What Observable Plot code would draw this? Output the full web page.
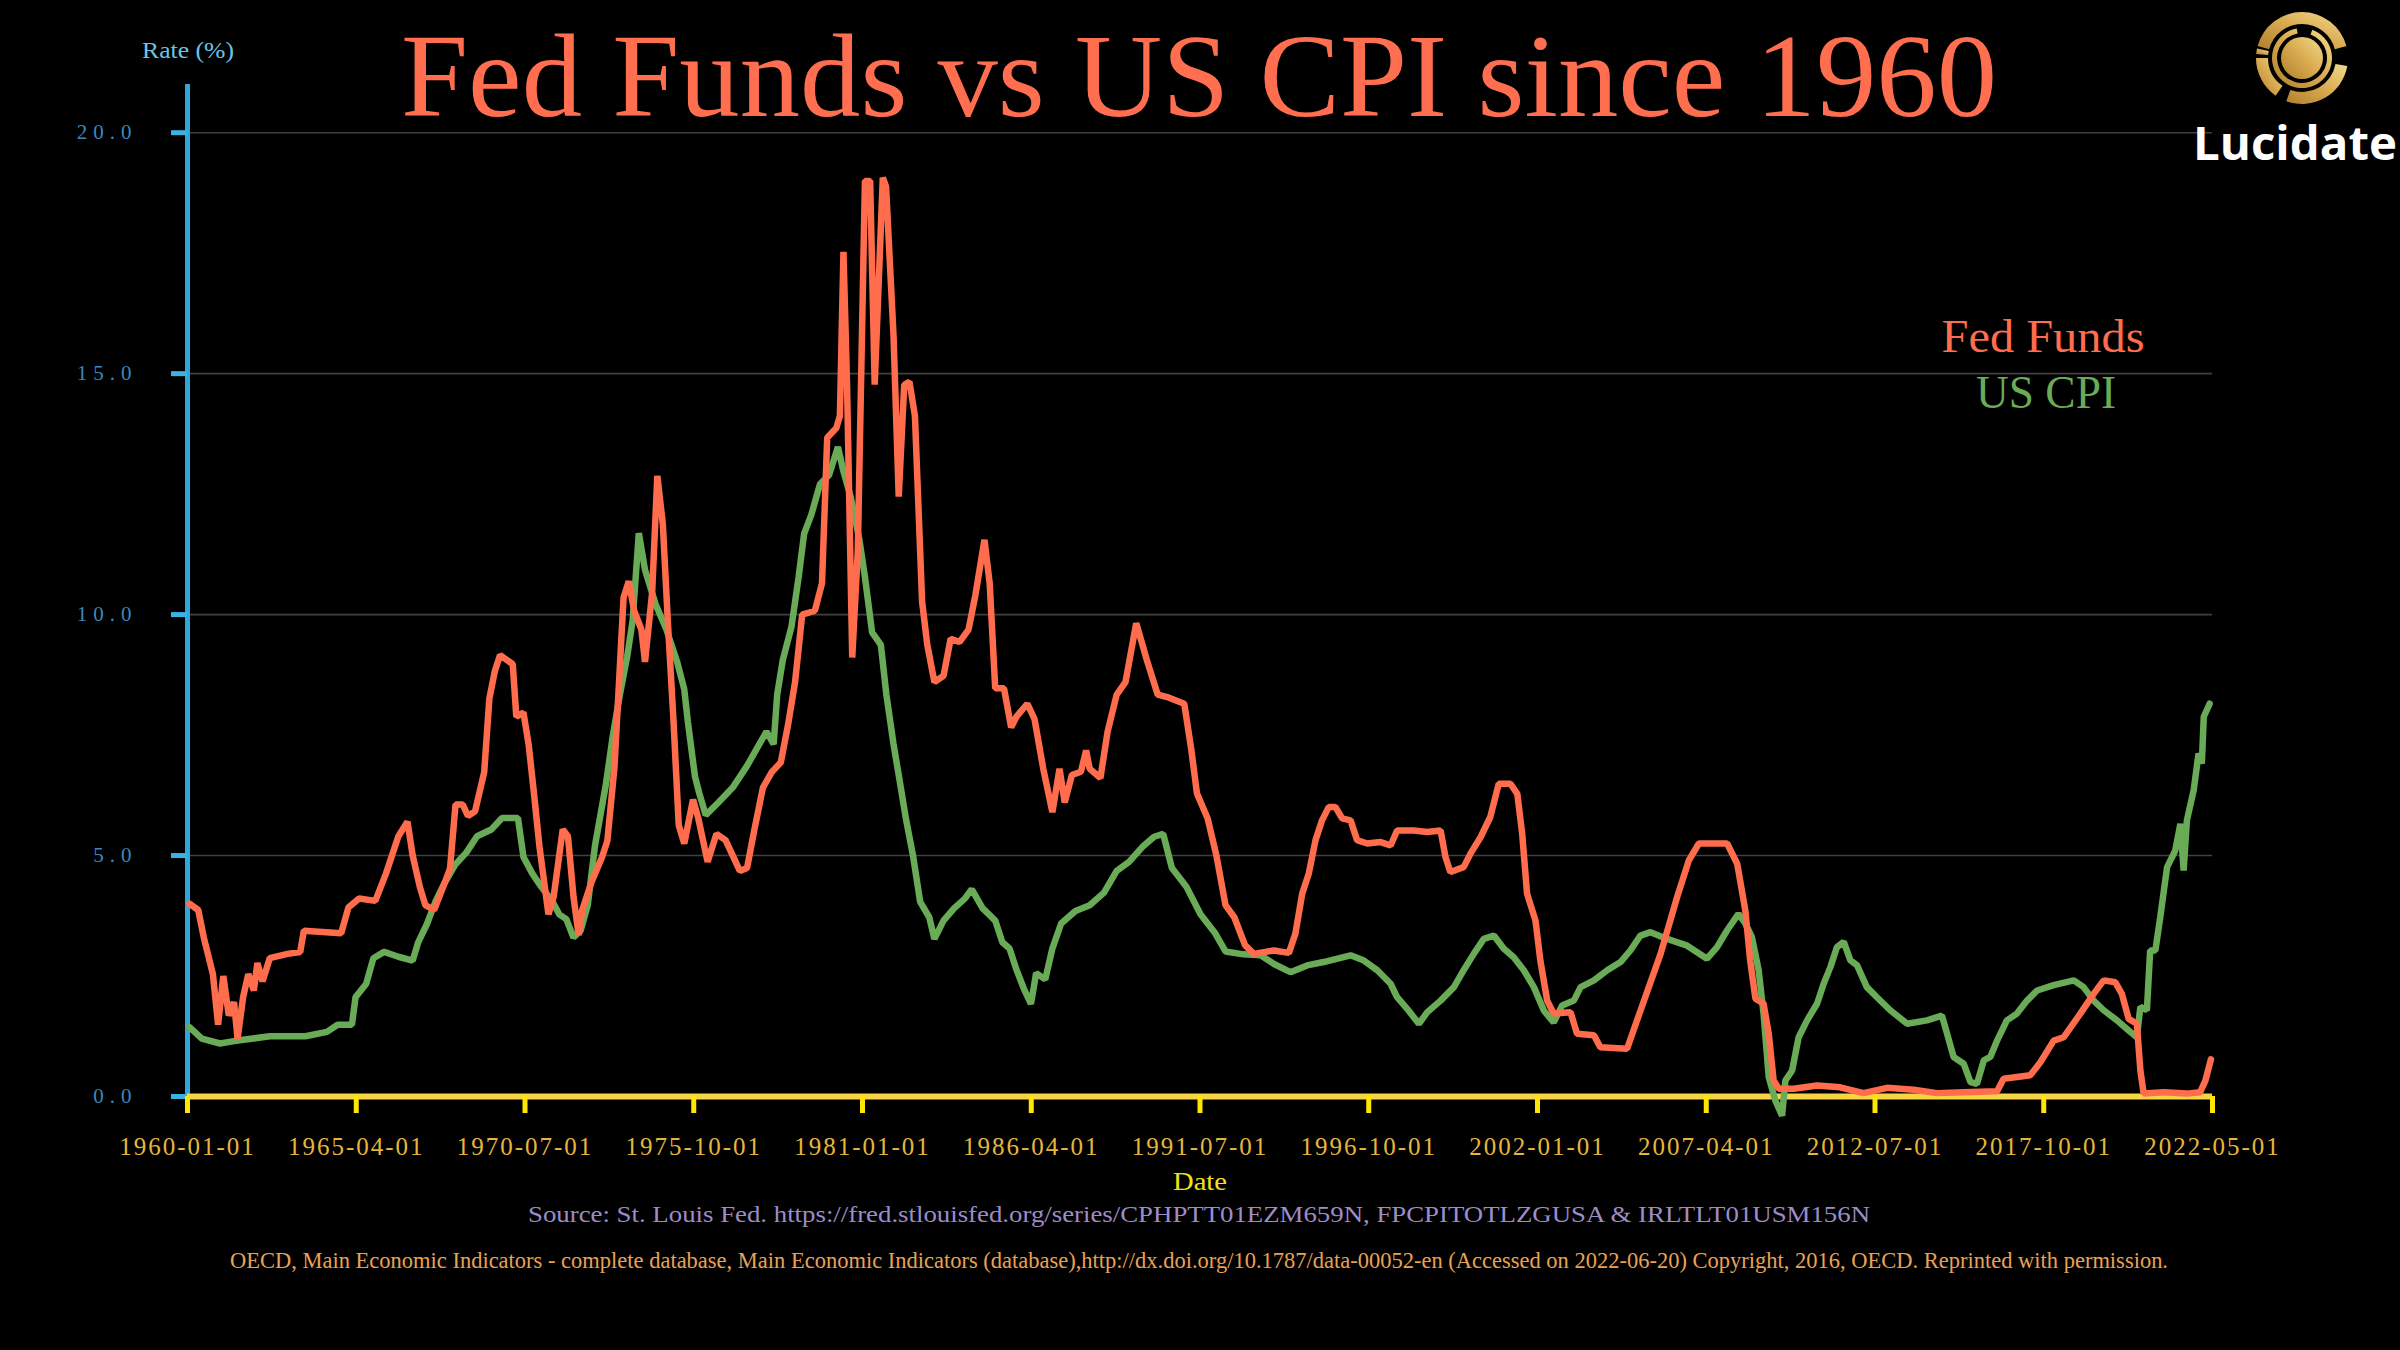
<!DOCTYPE html>
<html>
<head>
<meta charset="utf-8">
<script src="https://cdn.jsdelivr.net/npm/d3@7"></script>
<script src="https://cdn.jsdelivr.net/npm/@observablehq/plot@0.6"></script>
<style>
html, body { margin: 0; padding: 0; background: #000; }
#wrap { position: relative; width: 2400px; height: 1350px; background: #000; overflow: hidden; }
#chart { position: absolute; left: 0; top: 0; }
#overlay { position: absolute; left: 0; top: 0; }
g[aria-label="y-axis tick label"] text { letter-spacing: 6px; }
g[aria-label="x-axis tick label"] text { letter-spacing: 2px; }
</style>
</head>
<body>
<div id="wrap">
  <div id="chart"></div>
  <svg id="overlay" width="2400" height="1350" xmlns="http://www.w3.org/2000/svg"></svg>
</div>
<script>
// ---------------- DATA ----------------
const seriesNames = ["Fed Funds", "US CPI"];
const titleText = "Fed Funds vs US CPI since 1960";
const yLabelText = "Rate (%)";
const xLabelText = "Date";
const sourceLine1 = "Source: St. Louis Fed. https://fred.stlouisfed.org/series/CPHPTT01EZM659N, FPCPITOTLZGUSA & IRLTLT01USM156N";
const sourceLine2 = "OECD, Main Economic Indicators - complete database, Main Economic Indicators (database),http://dx.doi.org/10.1787/data-00052-en (Accessed on 2022-06-20) Copyright, 2016, OECD. Reprinted with permission.";

const xTickLabels = ["1960-01-01","1965-04-01","1970-07-01","1975-10-01","1981-01-01","1986-04-01","1991-07-01","1996-10-01","2002-01-01","2007-04-01","2012-07-01","2017-10-01","2022-05-01"];
const yTickValues = [0, 5, 10, 15, 20];

// Fed Funds: time (decimal year) and rate (%)
const fedTime = [
1960.06,1960.33,1960.5,1960.78,1960.94,1961.1,1961.27,1961.43,1961.54,1961.71,1961.87,1962.04,1962.15,1962.31,1962.53,1963.08,1963.47,1963.58,1964.73,1964.95,
1965.28,1965.78,1966.11,1966.49,1966.77,1966.93,1967.15,1967.32,1967.59,1967.87,1968.08,1968.25,1968.47,1968.63,1968.85,1969.13,1969.29,1969.46,1969.62,1970.01,
1970.12,1970.34,1970.5,1970.67,1970.83,1971.11,1971.27,1971.55,1971.71,1971.88,1972.04,1972.15,1972.43,1972.76,1972.92,1973.14,1973.42,1973.58,1973.75,1973.97,
1974.08,1974.3,1974.46,1974.63,1974.79,1974.96,1975.12,1975.29,1975.56,1975.72,1976.01,1976.28,1976.56,1977.0,1977.22,1977.44,1977.71,1977.99,1978.26,1978.48,
1978.7,1978.92,1979.31,1979.53,1979.69,1979.97,1980.08,1980.19,1980.3,1980.46,1980.63,1980.85,1981.01,1981.15,1981.4,1981.5,1981.73,1981.89,1982.06,1982.22,
1982.39,1982.61,1982.77,1982.99,1983.27,1983.49,1983.76,1984.04,1984.25,1984.53,1984.69,1984.86,1985.13,1985.35,1985.52,1985.85,1986.07,1986.34,1986.62,1986.84,
1987.0,1987.22,1987.5,1987.66,1987.77,1988.1,1988.32,1988.6,1988.87,1989.2,1989.53,1989.86,1990.19,1990.68,1990.9,1991.07,1991.4,1991.67,1991.95,1992.22,
1992.55,1992.82,1993.44,1993.9,1994.1,1994.31,1994.51,1994.72,1994.92,1995.13,1995.33,1995.54,1995.8,1996.0,1996.31,1996.72,1997.03,1997.23,1997.74,1998.16,
1998.57,1998.72,1998.87,1999.28,1999.49,1999.8,2000.1,2000.36,2000.72,2000.93,2001.08,2001.23,2001.49,2001.64,2001.85,2002.05,2002.57,2002.77,2003.29,2003.49,
2004.31,2004.72,2005.34,2005.85,2006.21,2006.52,2007.39,2007.7,2007.95,2008.1,2008.26,2008.51,2008.67,2008.82,2008.98,2009.44,2010.16,2010.87,2011.59,2012.31,
2013.13,2013.85,2014.67,2015.7,2015.9,2016.72,2017.03,2017.44,2017.75,2018.26,2018.67,2018.98,2019.34,2019.54,2019.75,2020.0,2020.11,2020.21,2020.83,2021.54,
2021.95,2022.11,2022.28
];
const fedRate = [
4.0,3.87,3.3,2.54,1.49,2.5,1.68,1.96,1.2,2.06,2.54,2.2,2.77,2.39,2.87,2.96,3.0,3.44,3.39,3.92,
4.11,4.06,4.63,5.4,5.7,5.0,4.35,3.97,3.87,4.35,4.73,6.06,6.06,5.82,5.92,6.73,8.26,8.83,9.16,8.97,
7.88,7.97,7.3,6.25,5.2,3.78,4.15,5.54,5.4,4.15,3.35,3.87,4.44,4.97,5.3,6.83,10.35,10.69,10.07,9.69,
9.02,10.45,12.88,11.88,9.78,7.78,5.63,5.25,6.16,5.78,4.87,5.45,5.32,4.68,4.74,5.51,6.41,6.74,6.93,7.7,
8.6,10.0,10.08,10.65,13.67,13.87,14.12,17.53,14.77,9.11,11.3,19.0,19.0,14.77,19.07,18.88,15.79,12.45,14.77,14.83,
14.12,10.27,9.37,8.6,8.73,9.5,9.43,9.69,10.4,11.55,10.65,8.47,8.47,7.66,7.89,8.15,7.83,6.8,5.9,6.8,
6.1,6.67,6.74,7.18,6.8,6.61,7.57,8.34,8.6,9.82,9.05,8.34,8.28,8.15,7.18,6.29,5.77,5.0,3.97,3.72,
3.14,2.96,3.03,2.98,3.38,4.21,4.62,5.32,5.73,6.01,6.01,5.77,5.73,5.32,5.25,5.28,5.21,5.52,5.52,5.49,
5.52,4.97,4.66,4.76,5.04,5.38,5.8,6.49,6.49,6.28,5.45,4.21,3.65,2.82,1.99,1.72,1.75,1.3,1.27,1.02,
0.99,1.78,2.96,4.14,4.9,5.25,5.25,4.83,3.86,2.82,2.03,1.93,1.3,0.33,0.16,0.16,0.23,0.19,0.07,0.18,
0.14,0.07,0.09,0.11,0.37,0.44,0.71,1.16,1.23,1.72,2.13,2.41,2.37,2.13,1.61,1.51,0.54,0.06,0.09,0.06,
0.09,0.33,0.77
];

// US CPI: time (decimal year) and inflation (%)
const cpiTime = [
1960.06,1960.44,1961.0,1961.43,1962.53,1963.63,1964.29,1964.62,1965.06,1965.17,1965.5,1965.72,1966.05,1966.49,1966.93,1967.1,1967.37,1967.64,1967.92,1968.25,
1968.58,1968.91,1969.35,1969.68,1970.17,1970.34,1970.61,1970.89,1971.22,1971.44,1971.66,1971.88,1972.1,1972.32,1972.54,1972.87,1973.09,1973.31,1973.53,1973.7,
1973.89,1974.08,1974.41,1974.74,1975.07,1975.29,1975.4,1975.62,1975.75,1975.95,1976.34,1976.78,1977.22,1977.6,1977.82,1978.04,1978.15,1978.32,1978.59,1978.81,
1978.98,1979.2,1979.47,1979.75,1980.02,1980.19,1980.41,1980.68,1980.85,1981.07,1981.34,1981.51,1981.73,1981.89,1982.11,1982.33,1982.55,1982.83,1982.99,1983.27,
1983.6,1983.92,1984.14,1984.47,1984.86,1985.08,1985.3,1985.52,1985.74,1985.96,1986.12,1986.4,1986.62,1986.89,1987.33,1987.77,1988.21,1988.6,1988.98,1989.42,
1989.75,1990.03,1990.3,1990.74,1991.18,1991.62,1991.95,1992.5,1993.03,1993.44,1993.95,1994.46,1994.97,1995.8,1996.21,1996.62,1997.03,1997.23,1997.54,1997.9,
1998.16,1998.57,1998.98,1999.28,1999.59,1999.9,2000.21,2000.51,2000.82,2001.13,2001.44,2001.75,2002.05,2002.31,2002.67,2002.88,2003.29,2003.7,2004.11,2004.41,
2004.72,2005.03,2005.54,2006.16,2006.77,2007.08,2007.39,2007.74,2007.95,2008.15,2008.36,2008.51,2008.67,2008.87,2009.08,2009.18,2009.39,2009.59,2009.85,2010.16,
2010.36,2010.57,2010.77,2010.98,2011.18,2011.39,2011.69,2012.0,2012.41,2012.93,2013.54,2014.0,2014.16,2014.36,2014.67,2014.88,2015.08,2015.29,2015.49,2015.7,
2016.0,2016.31,2016.62,2016.93,2017.44,2018.06,2018.36,2018.67,2018.98,2019.39,2019.75,2020.0,2020.11,2020.31,2020.41,2020.57,2020.72,2020.93,2021.18,2021.34,
2021.44,2021.54,2021.75,2021.9,2022.0,2022.06,2022.24
];
const cpiRate = [
1.44,1.2,1.1,1.15,1.25,1.25,1.34,1.49,1.49,2.06,2.34,2.87,3.0,2.9,2.82,3.2,3.58,4.06,4.44,4.82,
5.06,5.4,5.54,5.78,5.78,4.97,4.63,4.35,4.06,3.78,3.68,3.3,3.44,3.97,5.2,6.45,7.49,8.35,9.12,9.88,
11.69,10.93,10.21,9.69,9.02,8.45,7.78,6.64,6.3,5.84,6.1,6.41,6.86,7.31,7.57,7.31,8.34,9.05,9.75,10.78,
11.68,12.07,12.71,12.9,13.48,12.97,12.45,11.55,10.78,9.63,9.37,8.34,7.31,6.67,5.77,5.0,4.04,3.72,3.27,3.65,
3.91,4.1,4.3,3.91,3.65,3.2,3.07,2.62,2.24,1.92,2.56,2.43,3.07,3.59,3.85,3.97,4.23,4.68,4.87,5.2,
5.39,5.45,4.74,4.36,3.78,3.4,3.01,2.95,2.93,2.75,2.58,2.72,2.79,2.93,2.82,2.62,2.34,2.06,1.82,1.51,
1.75,1.99,2.27,2.62,2.96,3.27,3.34,3.07,2.89,2.62,2.27,1.78,1.54,1.89,1.99,2.27,2.41,2.62,2.79,3.03,
3.34,3.41,3.27,3.13,2.86,3.1,3.45,3.79,3.59,3.31,2.62,1.72,0.4,-0.08,-0.4,0.33,0.54,1.23,1.58,1.93,
2.34,2.69,3.1,3.21,2.83,2.72,2.27,2.06,1.79,1.51,1.58,1.68,1.3,0.82,0.68,0.3,0.26,0.75,0.82,1.16,
1.58,1.72,1.99,2.2,2.31,2.41,2.27,1.99,1.79,1.58,1.37,1.23,1.86,1.79,3.03,3.03,3.72,4.76,5.1,5.66,
4.69,5.73,6.36,7.12,6.91,7.88,8.15
];

// ---------------- BUILD ----------------
const toDate = t => {
  const y = Math.floor(t);
  const s = Date.UTC(y, 0, 1), e = Date.UTC(y + 1, 0, 1);
  return new Date(s + (t - y) * (e - s));
};
const fedData = fedTime.map((t, i) => ({date: toDate(t), value: fedRate[i], series: seriesNames[0]}));
const cpiData = cpiTime.map((t, i) => ({date: toDate(t), value: cpiRate[i], series: seriesNames[1]}));

const xStart = new Date(Date.UTC(1960, 0, 1));
const xEnd = new Date(Date.UTC(2022, 4, 1));
const xTicks = d3.range(xTickLabels.length).map(i => new Date(+xStart + i * (xEnd - xStart) / (xTickLabels.length - 1)));
const xLabelOf = d => xTickLabels[xTicks.findIndex(t => +t === +d)];

const colors = {fed: "#ff6d4d", cpi: "#6aab57"};

const chart = Plot.plot({
  width: 2400,
  height: 1350,
  marginLeft: 187,
  marginRight: 188,
  marginTop: 84,
  marginBottom: 254,
  style: {background: "#000", fontFamily: "'Liberation Serif', 'DejaVu Serif', serif", overflow: "visible"},
  x: {type: "utc", domain: [xStart, xEnd]},
  y: {domain: [0, 21]},
  marks: [
    Plot.gridY(yTickValues.filter(d => d > 0), {stroke: "#404040", strokeOpacity: 1, strokeWidth: 1.6}),
    Plot.ruleX([xStart], {stroke: "#2ea8dc", strokeWidth: 5}),
    Plot.axisY(yTickValues, {anchor: "left", tickSize: 16, tickPadding: 34, stroke: "#3ab2e4", strokeWidth: 5,
      fill: "#3a88bd", fontSize: 21, tickFormat: d => d.toFixed(1), label: null}),
    Plot.ruleY([0], {stroke: "#f6d443", strokeWidth: 6}),
    Plot.axisX(xTicks, {anchor: "bottom", tickSize: 17, tickPadding: 24, stroke: "#ffe600", strokeWidth: 5,
      fill: "#e6b63c", fontSize: 25, tickFormat: xLabelOf, label: null}),
    Plot.line(cpiData, {x: "date", y: "value", stroke: colors.cpi, strokeWidth: 6.5, strokeLinejoin: "miter"}),
    Plot.line(fedData, {x: "date", y: "value", stroke: colors.fed, strokeWidth: 6.5, strokeLinejoin: "miter"})
  ]
});
document.getElementById("chart").appendChild(chart);

// ---------------- TEXT OVERLAY ----------------
const ov = d3.select("#overlay");
const serif = "'Liberation Serif', 'DejaVu Serif', serif";
const addText = (txt, x, y, size, fill, len, extra = {}) => {
  const t = ov.append("text").attr("x", x).attr("y", y).attr("text-anchor", "middle")
    .attr("font-family", extra.family || serif).attr("font-size", size).attr("fill", fill)
    .attr("font-weight", extra.weight || 400).text(txt);
  if (len) t.attr("textLength", len).attr("lengthAdjust", "spacingAndGlyphs");
  return t;
};
addText(titleText, 1199, 116, 118, "#ff6e4f", 1596);
addText(yLabelText, 188, 58, 24, "#6cc4e2", 92);
addText(xLabelText, 1200, 1190, 25, "#f2e01e", 54);
addText(sourceLine1, 1199, 1222, 24, "#9c8cc8", 1342);
addText(sourceLine2, 1199, 1268, 23, "#e9a255", 1938);
addText(seriesNames[0], 2043, 352, 46, colors.fed, 203);
addText(seriesNames[1], 2046, 408, 46, colors.cpi, 140);

// Logo
const defs = ov.append("defs");
const grad = defs.append("linearGradient").attr("id", "gold").attr("x1", "0").attr("y1", "1").attr("x2", "1").attr("y2", "0");
grad.append("stop").attr("offset", "0").attr("stop-color", "#b07f2c");
grad.append("stop").attr("offset", "0.5").attr("stop-color", "#d9aa50");
grad.append("stop").attr("offset", "1").attr("stop-color", "#f3dc8c");
const logo = ov.append("g").attr("transform", "translate(2302,58)");
logo.append("circle").attr("r", 21).attr("fill", "url(#gold)");
const arc = d3.arc();
const ring = (r0, r1, a0, a1) => logo.append("path").attr("d", arc({innerRadius: r0, outerRadius: r1, startAngle: a0, endAngle: a1})).attr("fill", "url(#gold)");
const deg = Math.PI / 180;
ring(25, 30, 20 * deg, 350 * deg);
ring(34, 46, -75 * deg, 75 * deg);
ring(34, 46, 100 * deg, 200 * deg);
ring(34, 46, 215 * deg, 270 * deg);
ring(34, 46, 275 * deg, 282 * deg);
addText("Lucidate", 2295, 160, 46, "#ffffff", 204, {family: "'Open Sans', Lato, sans-serif", weight: 700});
</script>
</body>
</html>
